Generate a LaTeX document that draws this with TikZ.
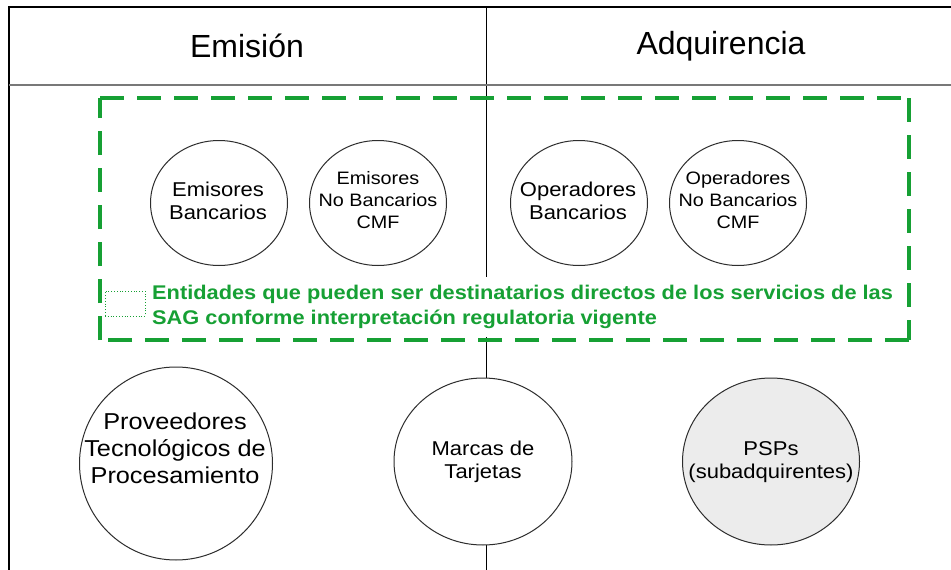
\documentclass[tikz,border=0pt]{standalone}
\usepackage{fontspec}
\setmainfont{Liberation Sans}
\newfontfamily\widefont[FakeStretch=1.1]{Liberation Sans}
\usetikzlibrary{shapes.geometric}
\definecolor{sgreen}{RGB}{22,160,52}
\definecolor{pspgray}{RGB}{236,236,236}
\definecolor{ringgray}{RGB}{45,45,45}
\definecolor{sepgray}{RGB}{120,120,120}
\begin{document}
\begin{tikzpicture}[x=1pt,y=-1pt,
  entity/.style={ellipse, draw=ringgray, line width=1pt, fill=white, inner sep=0pt},
  smallent/.style={entity, minimum width=137pt, minimum height=125pt},
  label2/.style={align=center, inner sep=0pt, font=\widefont\fontsize{20}{23}\selectfont},
  label3/.style={align=center, inner sep=0pt, font=\widefont\fontsize{18}{22}\selectfont},
  header/.style={font=\fontsize{32}{36}\selectfont},
  greendash/.style={draw=sgreen, line width=4pt, dash pattern=on 24pt off 13pt},
  gridline/.style={draw=black, line width=1.8pt}]
\useasboundingbox (0,0) rectangle (951,570);
\fill[white] (0,0) rectangle (951,570);

% table grid
\coordinate (tl) at (8,7);
\coordinate (tr) at (951,7);
\coordinate (bl) at (9,570);
\coordinate (mt) at (486,7);
\coordinate (mb) at (486,570);
\coordinate (sl) at (9,85);
\coordinate (sr) at (951,85);
\draw[gridline] (tl) -- (tr);
\draw[gridline] (9,7) -- (bl);
\draw[black, line width=1pt] (mt) -- (mb);
\draw[sepgray, line width=1.5pt] (sl) -- (sr);

% headers
\node[header] (hem) at (247,46) {Emisión};
\node[header] (had) at (721,46) {Adquirencia};

% green dashed frame
\coordinate (g1) at (100,98);
\coordinate (g2) at (909,98);
\coordinate (g3) at (909,340);
\coordinate (g4) at (100,340);
\draw[greendash] (g1) -- (g2);
\draw[greendash] (g2) -- (g3);
\draw[greendash] (g3) -- (g4);
\draw[greendash] (g4) -- (g1);

% top entities
\node[smallent] (eb) at (219,203) {};
\node[label2] (ebt) at (218,201) {Emisores\\Bancarios};
\node[smallent] (enb) at (378,203) {};
\node[label3] (enbt) at (378,200) {Emisores\\No Bancarios\\CMF};
\node[smallent] (ob) at (579,203) {};
\node[label2] (obt) at (578,201) {Operadores\\Bancarios};
\node[smallent] (onb) at (738,203) {};
\node[label3] (onbt) at (738,200) {Operadores\\No Bancarios\\CMF};

% legend
\node[draw=sgreen, dotted, line width=0.8pt, minimum width=40pt, minimum height=25pt, inner sep=0pt] (lbox) at (125,303.5) {};
\node[anchor=north west, fill=white, inner xsep=3pt, inner ysep=8pt, align=left, text=sgreen,
      font=\widefont\bfseries\fontsize{19.8}{25}\selectfont] (ltext) at (149,277)
  {Entidades que pueden ser destinatarios directos de los servicios de las\\SAG conforme interpretación regulatoria vigente};

% bottom entities
\node[entity, minimum width=193pt, minimum height=193pt] (prov) at (176,463.5) {};
\node[align=center, inner sep=0pt, font=\widefont\fontsize{23}{27}\selectfont] (provt) at (175,448) {Proveedores\\Tecnológicos de\\Procesamiento};
\node[entity, minimum width=178pt, minimum height=167pt] (marcas) at (483,461.5) {};
\node[label2] (marcast) at (483,462) {Marcas de\\Tarjetas};
\node[entity, minimum width=177pt, minimum height=167pt, fill=pspgray] (psp) at (771,461.5) {};
\node[label2] (pspt) at (771,462) {PSPs\\(subadquirentes)};
\end{tikzpicture}
\end{document}
